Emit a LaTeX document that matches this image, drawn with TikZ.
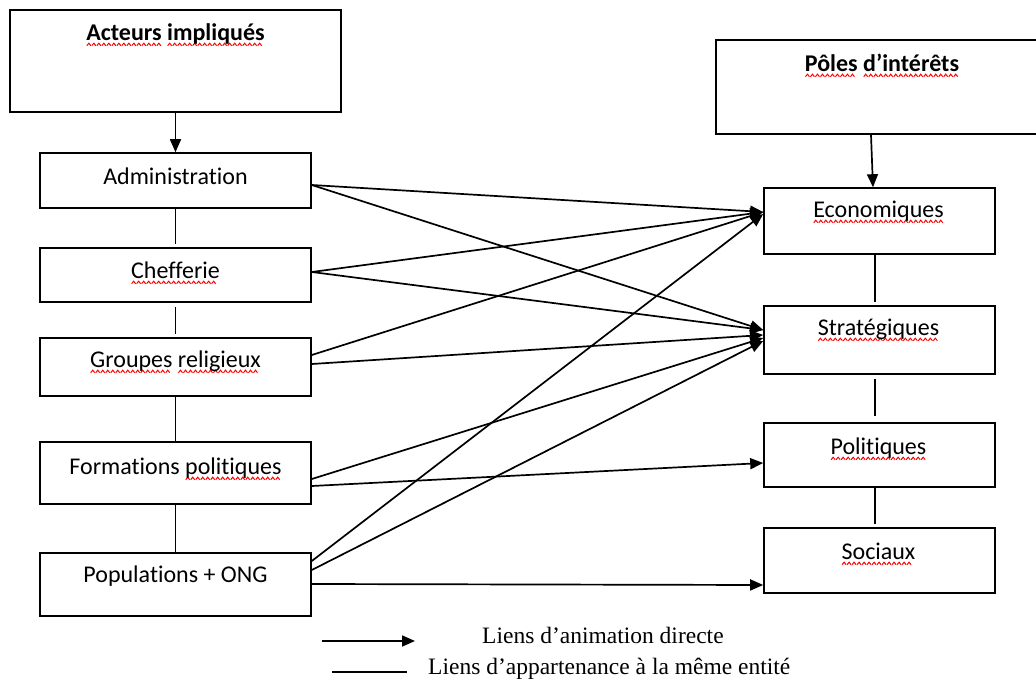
\documentclass[tikz,border=0pt]{standalone}
\usepackage{fontspec}
\setmainfont[Ligatures=NoCommon]{Carlito}
\newfontfamily\legfont{Liberation Serif}
\usetikzlibrary{arrows.meta,calc}
\newsavebox\wavebox
\newcommand\sq[1]{\setbox0\hbox{#1}\rlap{\raisebox{-6pt}{\hbox to \wd0{\leaders\copy\wavebox\hfill}}}\box0\relax}
\begin{document}
\sbox\wavebox{\begin{pgfpicture}\pgfsetlinewidth{1pt}\pgfsetstrokecolor{red}%
\pgfpathmoveto{\pgfpoint{0pt}{0pt}}\pgfpathlineto{\pgfpoint{2pt}{2.5pt}}\pgfpathlineto{\pgfpoint{4pt}{0pt}}%
\pgfusepath{stroke}\end{pgfpicture}}%
\begin{tikzpicture}[x=1pt,y=-1pt,
  box/.style={draw, line width=1.6pt, inner sep=0pt},
  lbl/.style={anchor=base, inner sep=0pt, font=\fontsize{24}{28}\selectfont},
  leg/.style={anchor=base west, inner sep=0pt, font=\legfont\fontsize{23.5}{28}\selectfont},
  conn/.style={line width=1.8pt},
  arr/.style={line width=1.7pt, -{Triangle[length=13pt,width=11pt]}}]
\useasboundingbox (0,0) rectangle (1036,679);
\clip (0,0) rectangle (1036,679);

% left column
\node[box, minimum width=331pt, minimum height=102pt] (act) at (175.5,61) {};
\node[box, minimum width=271pt, minimum height=55pt] (adm) at (175.5,180.5) {};
\node[box, minimum width=271pt, minimum height=54pt] (chef) at (175.5,275) {};
\node[box, minimum width=271pt, minimum height=58pt] (grp) at (175.5,367) {};
\node[box, minimum width=271pt, minimum height=62pt] (frm) at (175.5,473) {};
\node[box, minimum width=271pt, minimum height=63pt] (pop) at (175.5,584.5) {};

% right column
\node[box, minimum width=334pt, minimum height=94pt] (pol) at (883,87) {};
\node[box, minimum width=231pt, minimum height=66pt] (eco) at (879.5,221) {};
\node[box, minimum width=231pt, minimum height=68pt] (str) at (879.5,340) {};
\node[box, minimum width=231pt, minimum height=64pt] (pli) at (879.5,455) {};
\node[box, minimum width=231pt, minimum height=65pt] (soc) at (879.5,560.5) {};

% texts
\node[lbl, font=\bfseries\fontsize{24}{28}\selectfont] (tact) at ($(act.north)+(0,31)$) {\sq{Acteurs} \sq{impliqués}};
\node[lbl] (tadm) at ($(adm.north)+(0,32)$) {Administration};
\node[lbl] (tchef) at ($(chef.north)+(0,31)$) {\sq{Chefferie}};
\node[lbl] (tgrp) at ($(grp.north)+(0,30)$) {\sq{Groupes} \sq{religieux}};
\node[lbl] (tfrm) at ($(frm.north)+(0,33)$) {Formations \sq{politiques}};
\node[lbl] (tpop) at ($(pop.north)+(0,30)$) {Populations + ONG};
\node[lbl, font=\bfseries\fontsize{24}{28}\selectfont] (tpol) at ($(pol.north)+(-1,32)$) {\sq{Pôles} \sq{d’intérêts}};
\node[lbl] (teco) at ($(eco.north)+(-1,30)$) {\sq{Economiques}};
\node[lbl] (tstr) at ($(str.north)+(-1,30)$) {\sq{Stratégiques}};
\node[lbl] (tpli) at ($(pli.north)+(-1,32)$) {\sq{Politiques}};
\node[lbl] (tsoc) at ($(soc.north)+(-1,32)$) {\sq{Sociaux}};

% vertical links
\draw[arr] (act) -- (adm);
\draw[arr] ($(pol.south)+(-12,0)$) -- ($(eco.north)+(-6.5,0)$);
\draw[conn, shorten >=3pt] (adm) -- (chef);
\draw[conn, shorten <=4pt, shorten >=3pt] (chef) -- (grp);
\draw[conn] (grp) -- (frm);
\draw[conn] (frm) -- (pop);
\draw[conn] ($(eco.south)+(-4.5,0)$) -- ($(str.north)+(-4.5,-3)$);
\draw[conn] ($(str.south)+(-4.5,4)$) -- ($(pli.north)+(-4.5,-6)$);
\draw[conn] ($(pli.south)+(-4.5,0)$) -- ($(soc.north)+(-4.5,-3)$);

% animation links
\draw[arr] ($(adm.east)+(0,4.5)$) -- ($(eco.west)+(0,-9)$);
\draw[arr] ($(adm.east)+(0,4.5)$) -- ($(str.west)+(0,-10)$);
\draw[arr] ($(chef.east)+(0,-3)$) -- ($(eco.west)+(0,-9)$);
\draw[arr] ($(chef.east)+(0,-3)$) -- ($(str.west)+(0,-10)$);
\draw[arr] ($(grp.east)+(0,-12)$) -- ($(eco.west)+(0,-9)$);
\draw[arr] ($(grp.east)+(0,-3)$) -- ($(str.west)+(0,-5)$);
\draw[arr] ($(frm.east)+(0,6)$) -- ($(str.west)+(0,-2)$);
\draw[arr] ($(frm.east)+(0,13)$) -- ($(pli.west)+(0,8)$);
\draw[arr] ($(pop.east)+(0,-23.5)$) -- ($(eco.west)+(0,-7)$);
\draw[arr] ($(pop.east)+(0,-14.5)$) -- ($(str.west)+(0,1)$);
\draw[arr] ($(pop.east)+(0,-0.5)$) -- ($(soc.west)+(0,24.5)$);

% legend
\coordinate (la1) at (322,641);
\coordinate (la2) at (415,641);
\coordinate (ll1) at (332,672);
\coordinate (ll2) at (407,672);
\draw[arr] (la1) -- (la2);
\draw[conn] (ll1) -- (ll2);
\node[leg] (lga) at (482,643) {Liens d’animation directe};
\node[leg] (lgb) at (428,674) {Liens d’appartenance à la même entité};
\end{tikzpicture}
\end{document}
